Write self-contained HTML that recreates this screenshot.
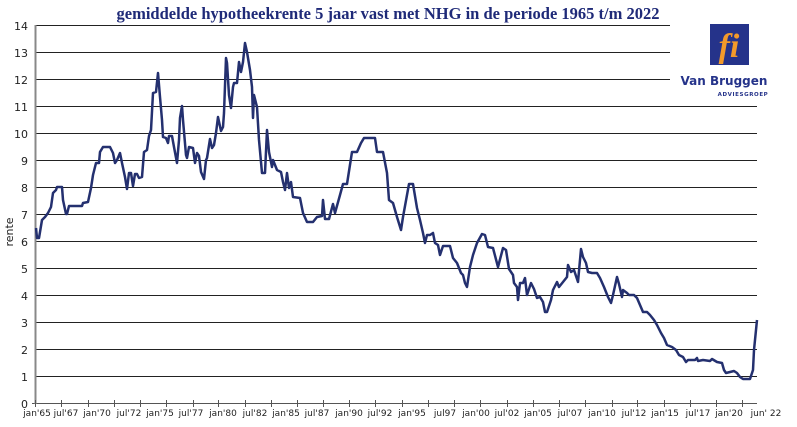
<!DOCTYPE html>
<html><head><meta charset="utf-8"><style>
body{margin:0;background:#fff;width:797px;height:427px;overflow:hidden}
svg{display:block}
</style></head><body>
<svg width="797" height="427" xmlns="http://www.w3.org/2000/svg">
<text x="388" y="19" text-anchor="middle" font-family="Liberation Serif,serif" font-weight="bold" font-size="16.5" fill="#1f2a78">gemiddelde hypotheekrente 5 jaar vast met NHG in de periode 1965 t/m 2022</text>
<g stroke="#222" stroke-width="1">
<line x1="35" y1="25.5" x2="670" y2="25.5"/>
<line x1="35" y1="52.5" x2="670" y2="52.5"/>
<line x1="35" y1="79.5" x2="670" y2="79.5"/>
<line x1="35" y1="106.5" x2="757" y2="106.5"/>
<line x1="35" y1="133.5" x2="757" y2="133.5"/>
<line x1="35" y1="160.5" x2="757" y2="160.5"/>
<line x1="35" y1="187.5" x2="757" y2="187.5"/>
<line x1="35" y1="214.5" x2="757" y2="214.5"/>
<line x1="35" y1="241.5" x2="757" y2="241.5"/>
<line x1="35" y1="268.5" x2="757" y2="268.5"/>
<line x1="35" y1="295.5" x2="757" y2="295.5"/>
<line x1="35" y1="322.5" x2="757" y2="322.5"/>
<line x1="35" y1="349.5" x2="757" y2="349.5"/>
<line x1="35" y1="376.5" x2="757" y2="376.5"/>
<line x1="32" y1="403.5" x2="757" y2="403.5" stroke="#555"/>
</g>
<line x1="35.5" y1="25" x2="35.5" y2="404" stroke="#888" stroke-width="2"/>
<g stroke="#555" stroke-width="1">
<line x1="35.5" y1="400" x2="35.5" y2="407"/><line x1="61.5" y1="400" x2="61.5" y2="407"/><line x1="88.5" y1="400" x2="88.5" y2="407"/><line x1="114.5" y1="400" x2="114.5" y2="407"/><line x1="140.5" y1="400" x2="140.5" y2="407"/><line x1="166.5" y1="400" x2="166.5" y2="407"/><line x1="193.5" y1="400" x2="193.5" y2="407"/><line x1="218.5" y1="400" x2="218.5" y2="407"/><line x1="245.5" y1="400" x2="245.5" y2="407"/><line x1="271.5" y1="400" x2="271.5" y2="407"/><line x1="297.5" y1="400" x2="297.5" y2="407"/><line x1="323.5" y1="400" x2="323.5" y2="407"/><line x1="349.5" y1="400" x2="349.5" y2="407"/><line x1="375.5" y1="400" x2="375.5" y2="407"/><line x1="402.5" y1="400" x2="402.5" y2="407"/><line x1="428.5" y1="400" x2="428.5" y2="407"/><line x1="454.5" y1="400" x2="454.5" y2="407"/><line x1="480.5" y1="400" x2="480.5" y2="407"/><line x1="507.5" y1="400" x2="507.5" y2="407"/><line x1="533.5" y1="400" x2="533.5" y2="407"/><line x1="559.5" y1="400" x2="559.5" y2="407"/><line x1="585.5" y1="400" x2="585.5" y2="407"/><line x1="612.5" y1="400" x2="612.5" y2="407"/><line x1="637.5" y1="400" x2="637.5" y2="407"/><line x1="664.5" y1="400" x2="664.5" y2="407"/><line x1="690.5" y1="400" x2="690.5" y2="407"/><line x1="716.5" y1="400" x2="716.5" y2="407"/><line x1="742.5" y1="400" x2="742.5" y2="407"/>
</g>
<g font-family="DejaVu Sans,sans-serif" font-size="11" fill="#222" text-anchor="end">
<text x="28" y="30">14</text><text x="28" y="57">13</text><text x="28" y="84">12</text><text x="28" y="111">11</text><text x="28" y="138">10</text><text x="28" y="165">9</text><text x="28" y="192">8</text><text x="28" y="219">7</text><text x="28" y="246">6</text><text x="28" y="273">5</text><text x="28" y="300">4</text><text x="28" y="327">3</text><text x="28" y="354">2</text><text x="28" y="381">1</text><text x="28" y="408">0</text>
</g>
<text transform="translate(13,232) rotate(-90)" text-anchor="middle" font-family="DejaVu Sans,sans-serif" font-size="11" fill="#222">rente</text>
<g font-family="DejaVu Sans,sans-serif" font-size="9" fill="#222" text-anchor="middle">
<text x="37" y="416">jan'65</text><text x="66" y="416">jul'67</text><text x="97" y="416">jan'70</text><text x="129" y="416">jul'72</text><text x="160" y="416">jan'75</text><text x="191" y="416">jul'77</text><text x="223" y="416">jan'80</text><text x="255" y="416">jul'82</text><text x="286" y="416">jan'85</text><text x="317" y="416">jul'87</text><text x="349" y="416">jan'90</text><text x="380" y="416">jul'92</text><text x="412" y="416">jan'95</text><text x="445" y="416">jul97</text><text x="476" y="416">jan'00</text><text x="507" y="416">jul'02</text><text x="538" y="416">jan'05</text><text x="570" y="416">jul'07</text><text x="602" y="416">jan'10</text><text x="634" y="416">jul'12</text><text x="665" y="416">jan'15</text><text x="698" y="416">jul'17</text><text x="729" y="416">jan'20</text><text x="766" y="416">jun' 22</text>
</g>
<polyline fill="none" stroke="#24306f" stroke-width="2.5" stroke-linejoin="round" points="36,228 37,238 39,238 42,220 45,217 48,213 51,207 53,193 56,190 57,187 62,187 63,200 66,214 67,214 69,206 82,206 83,203 88,202 91,188 93,175 96,163 99,163 100,152 103,147 110,147 113,153 115,163 117,160 120,153 122,163 125,177 127,189 129,173 131,173 133,186 135,174 137,174 139,178 142,177 144,152 147,150 149,136 151,130 153,93 156,92 158,73 160,97 162,120 163,137 166,138 168,143 169,136 172,136 174,147 177,163 179,140 180,118 182,106 183,120 186,155 187,158 189,147 193,148 195,163 197,153 199,156 201,172 204,179 206,160 207,158 210,139 212,148 214,145 216,133 218,117 221,131 223,127 224,113 226,58 227,63 229,95 231,108 233,87 234,83 237,83 239,62 241,72 243,62 245,43 247,52 250,70 252,87 253,118 254,95 257,107 259,140 262,173 265,173 267,130 269,152 272,167 273,160 277,170 281,172 283,182 285,190 287,173 289,188 291,182 293,197 300,198 303,213 307,222 313,222 317,217 322,216 323,200 325,219 329,219 333,204 335,213 340,195 343,184 347,184 352,152 357,152 361,143 364,138 375,138 377,152 383,152 387,173 389,200 393,203 397,217 401,230 403,217 407,195 409,184 413,184 417,208 420,220 423,233 425,243 427,235 430,235 433,233 435,243 438,245 440,255 443,246 450,246 453,258 457,263 461,273 463,275 465,283 467,287 470,267 473,255 477,243 482,234 485,235 488,247 493,248 498,267 503,248 506,250 509,269 513,275 514,283 517,287 518,300 520,283 523,283 525,278 527,295 531,283 534,289 537,298 540,297 543,302 545,312 547,312 551,300 553,290 557,282 559,287 563,282 567,277 568,265 571,272 574,270 578,282 581,249 583,257 586,263 588,272 592,273 597,273 600,278 604,287 608,297 611,303 613,295 617,277 619,284 622,297 623,290 627,293 629,295 634,295 637,298 640,305 643,312 647,312 650,315 654,320 657,325 661,333 664,338 667,345 672,347 676,350 679,355 683,357 686,362 688,360 695,360 697,358 698,361 703,360 710,361 712,359 717,362 722,363 724,370 726,373 730,372 734,371 737,373 740,377 743,379 750,379 753,370 754,350 756,330 757,320"/>
<rect x="710" y="24" width="39" height="41" fill="#25338a"/>
<text x="729" y="57" text-anchor="middle" font-family="Liberation Serif,serif" font-style="italic" font-weight="bold" font-size="34" fill="#f39a2a">fi</text>
<text x="724" y="85" text-anchor="middle" font-family="DejaVu Sans,sans-serif" font-weight="bold" font-size="12" fill="#25338a">Van Bruggen</text>
<text x="743" y="96" text-anchor="middle" font-family="DejaVu Sans,sans-serif" font-weight="bold" font-size="5.5" fill="#25338a" letter-spacing="0.6">ADVIESGROEP</text>
</svg>
</body></html>
